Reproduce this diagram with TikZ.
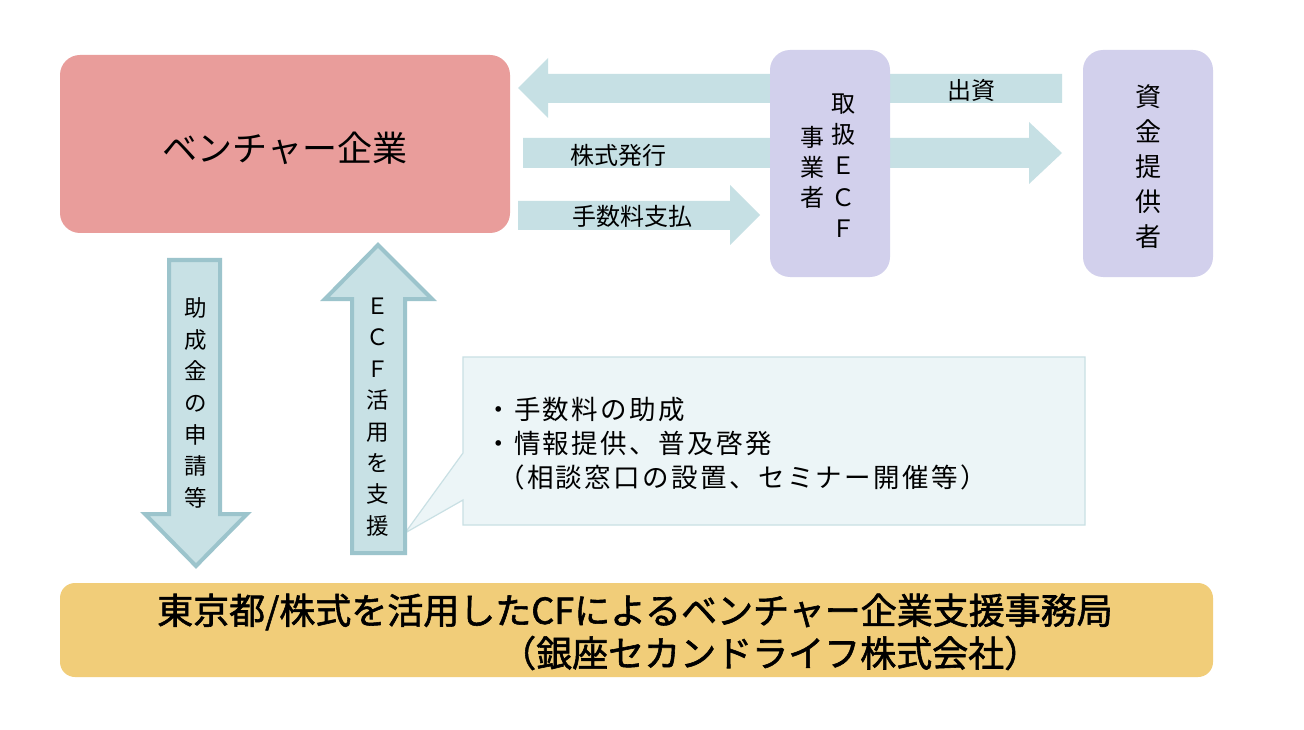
\documentclass[tikz,border=0pt]{standalone}
\usepackage{fontspec}
\setmainfont{Noto Sans CJK JP}
\newfontfamily\jpbold{Noto Sans CJK JP}[FakeBold=1.6]
\newfontfamily\jpspaced{Noto Sans CJK JP}[LetterSpace=9]
\definecolor{ventfill}{HTML}{E99D9B}
\definecolor{lavfill}{HTML}{D2D0EC}
\definecolor{arrfill}{HTML}{C6E0E4}
\definecolor{arrout}{HTML}{9CC4CC}
\definecolor{arrin}{HTML}{C8E1E5}
\definecolor{callfill}{HTML}{ECF5F7}
\definecolor{callline}{HTML}{C9E0E4}
\definecolor{goldfill}{HTML}{F1CD79}
\tikzset{
  boxbase/.style={inner sep=0pt, outer sep=0pt, draw=none},
  flatarrow/.style={fill=arrfill, draw=none},
  outarrow/.style={fill=arrin, draw=arrout, line width=4pt, line join=miter},
  vcol/.style={inner sep=0pt, align=center},
  lbl/.style={inner sep=0pt, font=\fontsize{24}{24}\selectfont},
  calltext/.style={inner sep=0pt, anchor=west, font=\jpspaced\fontsize{26.5}{26.5}\selectfont},
}
\begin{document}
\begin{tikzpicture}[x=1pt,y=-1pt]
\useasboundingbox (0,0) rectangle (1304,730);
\fill[white] (0,0) rectangle (1304,730);

% flat arrows (behind ECF box)
\coordinate (a1tip) at (518,88);
\coordinate (a2tip) at (1062,153);
\coordinate (a3tip) at (760,215);
\fill[flatarrow] (1062,74) -- (548,74) -- (548,58) -- (a1tip) -- (548,118) -- (548,103) -- (1062,103) -- cycle;
\fill[flatarrow] (523,138) -- (1029,138) -- (1029,122) -- (a2tip) -- (1029,184) -- (1029,168) -- (523,168) -- cycle;
\fill[flatarrow] (518,201) -- (730,201) -- (730,185) -- (a3tip) -- (730,245) -- (730,230) -- (518,230) -- cycle;

% boxes
\node[boxbase, fill=ventfill, rounded corners=20pt, minimum width=450pt, minimum height=178pt] (venture) at (285,144) {};
\node[inner sep=0pt, font=\fontsize{35}{35}\selectfont] (ventlbl) at (285,148) {ベンチャー企業};

\node[boxbase, fill=lavfill, rounded corners=20pt, minimum width=120pt, minimum height=227pt] (ecf) at (830,163.5) {};
\node[vcol, font=\fontsize{24}{31.3}\selectfont] (ecfR) at (843,165.5) {取\\扱\\Ｅ\\Ｃ\\Ｆ};
\node[vcol, font=\fontsize{24}{30}\selectfont] (ecfL) at (812,167) {事\\業\\者};

\node[boxbase, fill=lavfill, rounded corners=20pt, minimum width=130pt, minimum height=227pt] (funder) at (1148,163.5) {};
\node[vcol, font=\fontsize{26}{35}\selectfont] (funlbl) at (1148,167) {資\\金\\提\\供\\者};

% arrow labels
\node[lbl] (l1) at (971,90) {出資};
\node[lbl] (l2) at (618,155) {株式発行};
\node[lbl] (l3) at (632,216) {手数料支払};

% callout
\node[boxbase, minimum width=622pt, minimum height=168pt] (callout) at (774,441) {};
\filldraw[fill=callfill, draw=callline, line width=1.2pt]
  (callout.north west) -- (callout.north east) -- (callout.south east) -- (callout.south west)
  -- (463,500) -- (405,533) -- (463,453) -- cycle;
\node[calltext] (c1) at (485,410) {・手数料の助成};
\node[calltext] (c2) at (485,443) {・情報提供、普及啓発};
\node[calltext] (c3) at (498,477) {（相談窓口の設置、セミナー開催等）};

% outlined vertical arrows
\draw[outarrow] (169,260) -- (220,260) -- (220,514) -- (247,514) -- (196,566) -- (145,514) -- (169,514) -- cycle;
\node[vcol, font=\fontsize{22.5}{31.7}\selectfont] (downlbl) at (196,403) {助\\成\\金\\の\\申\\請\\等};

\draw[outarrow] (352,553) -- (352,299) -- (325,299) -- (378,245) -- (432,299) -- (405,299) -- (405,553) -- cycle;
\node[vcol, font=\fontsize{22.5}{31.4}\selectfont] (uplbl) at (378,417) {Ｅ\\Ｃ\\Ｆ\\活\\用\\を\\支\\援};

% bottom office box
\node[boxbase, fill=goldfill, rounded corners=15pt, minimum width=1153pt, minimum height=94pt] (office) at (636.5,630) {};
\node[inner sep=0pt, anchor=west, font=\jpbold\fontsize{36}{36}\selectfont] (o1) at (157,612) {東京都/株式を活用したCFによるベンチャー企業支援事務局};
\node[inner sep=0pt, anchor=west, font=\jpbold\fontsize{36}{36}\selectfont] (o2) at (500,653) {（銀座セカンドライフ株式会社）};
\end{tikzpicture}
\end{document}
